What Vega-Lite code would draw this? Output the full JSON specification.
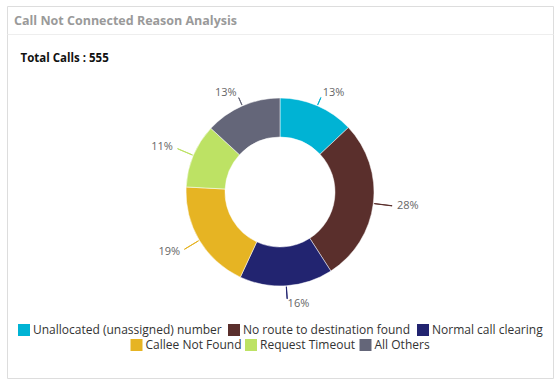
{
  "$schema": "https://vega.github.io/schema/vega-lite/v6.json",
  "width": 546,
  "height": 372,
  "autosize": {"type": "none"},
  "padding": {"left": 7, "top": 6, "right": 7, "bottom": 5},
  "background": "white",
  "title": {
    "text": "Call Not Connected Reason Analysis",
    "anchor": "start",
    "frame": "group",
    "orient": "top",
    "offset": -21,
    "dx": 7,
    "font": "Open Sans",
    "fontSize": 12.5,
    "fontWeight": "bold",
    "color": "#9a9a9a"
  },
  "data": {
    "values": [
      {"reason": "Unallocated (unassigned) number", "calls": 72},
      {"reason": "No route to destination found", "calls": 155},
      {"reason": "Normal call clearing", "calls": 89},
      {"reason": "Callee Not Found", "calls": 105},
      {"reason": "Request Timeout", "calls": 61},
      {"reason": "All Others", "calls": 73}
    ]
  },
  "transform": [
    {"joinaggregate": [{"op": "sum", "field": "calls", "as": "total"}]},
    {"stack": "calls", "groupby": [], "as": ["start", "end"]},
    {"calculate": "datum.calls / datum.total", "as": "pct"},
    {"calculate": "(datum.start + datum.end) / 2", "as": "mid"},
    {"calculate": "datum.mid + 0.15", "as": "mid2"}
  ],
  "layer": [
    {
      "mark": {"type": "arc", "radius": 94, "radius2": 55, "stroke": "white", "strokeWidth": 0.5},
      "encoding": {
        "theta": {"field": "end", "type": "quantitative", "stack": null, "scale": {"zero": true, "nice": false}},
        "theta2": {"field": "start"},
        "fill": {
          "field": "reason",
          "type": "nominal",
          "sort": null,
          "scale": {
            "domain": ["Unallocated (unassigned) number", "No route to destination found", "Normal call clearing", "Callee Not Found", "Request Timeout", "All Others"],
            "range": ["#00b3d4", "#5a2f2c", "#222470", "#e6b423", "#bde264", "#646679"]
          },
          "legend": {
            "values": ["Unallocated (unassigned) number", "No route to destination found", "Normal call clearing"],
            "title": null,
            "gridAlign": "none"
          }
        }
      }
    },
    {
      "mark": {
        "type": "arc",
        "radius": {"expr": "113 - 12 * pow(max(0, cos(2 * PI * datum.mid / datum.total)), 2) - 6 * pow(max(0, -cos(2 * PI * datum.mid / datum.total)), 2)"},
        "radius2": 95,
        "fillOpacity": 0
      },
      "encoding": {
        "theta": {"field": "mid", "type": "quantitative", "stack": null},
        "theta2": {"field": "mid2"},
        "stroke": {
          "field": "reason",
          "type": "nominal",
          "sort": null,
          "scale": {
            "domain": ["Callee Not Found", "Request Timeout", "All Others", "Unallocated (unassigned) number", "No route to destination found", "Normal call clearing"],
            "range": ["#e6b423", "#bde264", "#646679", "#00b3d4", "#5a2f2c", "#222470"]
          },
          "legend": {
            "values": ["Callee Not Found", "Request Timeout", "All Others"],
            "title": null,
            "gridAlign": "none",
            "columnPadding": -13.5,
            "symbolType": "square",
            "symbolSize": 1,
            "symbolStrokeWidth": 11
          }
        }
      }
    },
    {
      "mark": {
        "type": "text",
        "radius": {"expr": "118 - 12 * pow(max(0, cos(2 * PI * datum.mid / datum.total)), 2) - 6 * pow(max(0, -cos(2 * PI * datum.mid / datum.total)), 2)"},
        "font": "Open Sans",
        "fontSize": 11,
        "color": "#666666",
        "baseline": "middle",
        "align": {"expr": "datum.mid < datum.total / 2 ? 'left' : 'right'"}
      },
      "encoding": {
        "theta": {"field": "mid", "type": "quantitative", "stack": null},
        "text": {"field": "pct", "type": "quantitative", "format": ".0%"}
      }
    },
    {
      "mark": {"type": "point", "opacity": 0},
      "encoding": {
        "x": {
          "datum": 0,
          "type": "quantitative",
          "axis": {
            "orient": "top",
            "offset": -28,
            "domainColor": "#eeeeee",
            "domainWidth": 1,
            "ticks": false,
            "labels": false,
            "grid": false,
            "title": "Total Calls : 555",
            "titleAnchor": "start",
            "titleAlign": "left",
            "titleBaseline": "alphabetic",
            "titleX": 13,
            "titleY": 27,
            "titleFont": "Open Sans",
            "titleFontSize": 11.5,
            "titleFontWeight": "bold",
            "titleColor": "#111111"
          }
        }
      }
    }
  ],
  "config": {
    "view": {"stroke": "#dddddd", "strokeWidth": 1},
    "legend": {
      "orient": "bottom",
      "direction": "horizontal",
      "offset": -54,
      "padding": 0,
      "labelFont": "Open Sans",
      "labelFontSize": 12,
      "labelColor": "#333333",
      "labelLimit": 0,
      "symbolType": "square",
      "symbolSize": 144,
      "symbolStrokeWidth": 0,
      "columnPadding": 6,
      "labelOffset": 3,
      "layout": {
        "bottom": {"anchor": "middle", "direction": "vertical", "center": true, "margin": 3, "offset": -54}
      }
    }
  }
}
